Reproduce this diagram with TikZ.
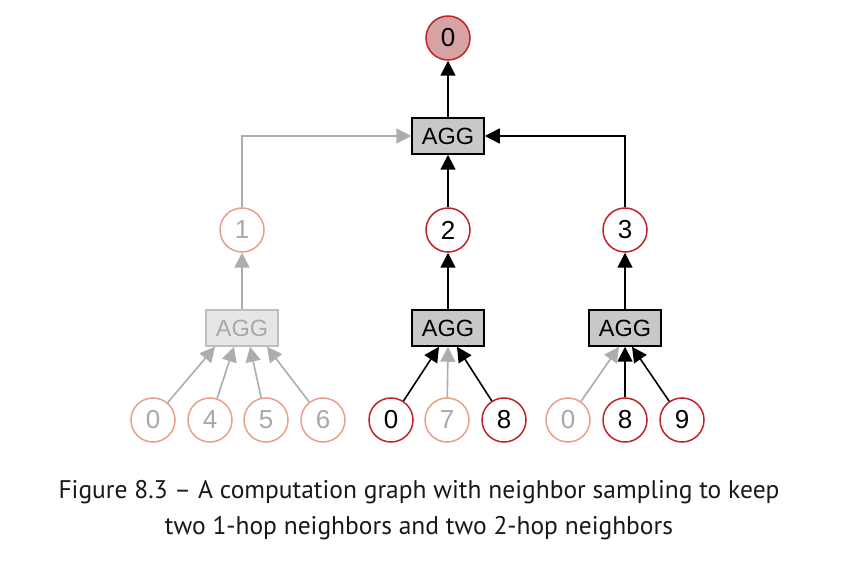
\documentclass[tikz,border=0pt]{standalone}
\usepackage{fontspec}
\setmainfont{Liberation Sans}
\newfontfamily\capfont{PT Sans}
\usetikzlibrary{arrows.meta,calc}
\definecolor{redc}{RGB}{190,35,40}
\definecolor{topfill}{RGB}{214,162,162}
\definecolor{fadec}{RGB}{232,160,138}
\definecolor{grayt}{RGB}{168,168,168}
\definecolor{graya}{RGB}{172,173,176}
\definecolor{aggfill}{RGB}{200,200,200}
\definecolor{fadefill}{RGB}{230,230,230}
\definecolor{fadeline}{RGB}{190,190,190}
\tikzset{
  nd/.style={circle,draw=redc,line width=1.5pt,minimum size=44pt,inner sep=0pt,fill=white,font=\fontsize{26}{26}\selectfont},
  fnd/.style={nd,draw=fadec,text=grayt},
  agg/.style={rectangle,draw=black,fill=aggfill,line width=1.5pt,minimum width=72pt,minimum height=36pt,inner sep=0pt,font=\fontsize{23.5}{23.5}\selectfont},
  fagg/.style={agg,draw=fadeline,fill=fadefill,text=grayt},
  ba/.style={draw=black,line width=1.6pt,-{Triangle[length=15pt,width=15pt]}},
  ga/.style={draw=graya,line width=1.6pt,-{Triangle[length=15pt,width=15pt]}},
  captext/.style={font=\capfont\fontsize{25.5}{30}\selectfont,text=black!90},
}
\begin{document}
\begin{tikzpicture}[x=1pt,y=-1pt]
\useasboundingbox (0,0) rectangle (865,561);
\fill[white] (0,0) rectangle (865,561);
% nodes
\node[nd,fill=topfill] (top) at (448,38) {0};
\node[agg] (aggT) at (448,136) {AGG};
\node[fnd] (n1) at (242,230) {1};
\node[nd] (n2) at (448,230) {2};
\node[nd] (n3) at (625,230) {3};
\node[fagg] (aggL) at (242,328) {AGG};
\node[agg] (aggM) at (448,328) {AGG};
\node[agg] (aggR) at (625,328) {AGG};
\node[fnd] (l0) at (153,420) {0};
\node[fnd] (l4) at (210,420) {4};
\node[fnd] (l5) at (266,420) {5};
\node[fnd] (l6) at (323,420) {6};
\node[nd] (m0) at (391,420) {0};
\node[fnd] (m7) at (447,420) {7};
\node[nd] (m8) at (504,420) {8};
\node[fnd] (r0) at (568,420) {0};
\node[nd] (r8) at (625,420) {8};
\node[nd] (r9) at (682,420) {9};
% tip coordinates
\coordinate (tL0) at ([xshift=-27pt]aggL.south);
\coordinate (tL4) at ([xshift=-8pt]aggL.south);
\coordinate (tL5) at ([xshift=8pt]aggL.south);
\coordinate (tL6) at ([xshift=25pt]aggL.south);
\coordinate (tM0) at ([xshift=-9pt]aggM.south);
\coordinate (tM7) at (aggM.south);
\coordinate (tM8) at ([xshift=9pt]aggM.south);
\coordinate (tR0) at ([xshift=-6pt]aggR.south);
\coordinate (tR8) at (aggR.south);
\coordinate (tR9) at ([xshift=7pt]aggR.south);
% leaf edges
\draw[ga] (l0) -- (tL0);
\draw[ga] (l4) -- (tL4);
\draw[ga] (l5) -- (tL5);
\draw[ga] (l6) -- (tL6);
\draw[ga] (m7) -- (tM7);
\draw[ba] (m0) -- (tM0);
\draw[ba] (m8) -- (tM8);
\draw[ga] (r0) -- (tR0);
\draw[ba] (r8) -- (tR8);
\draw[ba] (r9) -- (tR9);
% middle edges
\draw[ga] (aggL) -- (n1);
\draw[ba] (aggM) -- (n2);
\draw[ba] (aggR) -- (n3);
\draw[ga] (n1) |- (aggT);
\draw[ba] (n2) -- (aggT);
\draw[ba] (n3) |- (aggT);
\draw[ba] (aggT) -- (top);
% caption
\node[captext] (cap1) at (419,492) {Figure 8.3 – A computation graph with neighbor sampling to keep};
\node[captext] (cap2) at (419,528) {two 1-hop neighbors and two 2-hop neighbors};
\end{tikzpicture}
\end{document}
